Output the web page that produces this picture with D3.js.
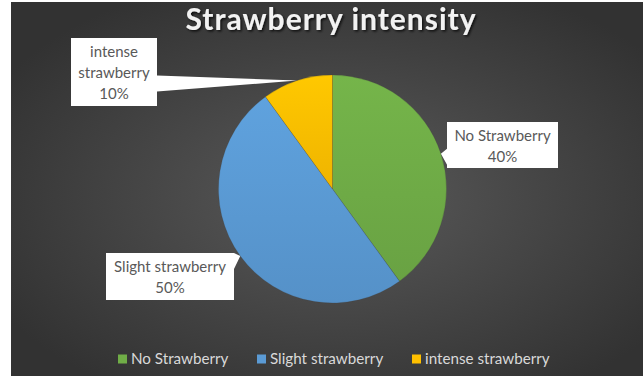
<!DOCTYPE html>
<html>
<head>
<meta charset="utf-8">
<script src="https://cdn.jsdelivr.net/npm/d3@7"></script>
<style>
  html, body { margin: 0; padding: 0; background: #ffffff; }
  svg { display: block; }
</style>
</head>
<body>
<svg id="chart" width="643" height="376"></svg>
<script>
// Survey result: perceived strawberry intensity
const categories = ["No Strawberry", "Slight strawberry", "intense strawberry"];
const shares = [40, 50, 10];
const labelLines = [["No Strawberry"], ["Slight strawberry"], ["intense", "strawberry"]];
const colors = ["#70AD47", "#5B9BD5", "#FFC000"];
const title = "Strawberry intensity";

const W = 643, H = 376;
const svg = d3.select("#chart");
const defs = svg.append("defs");

// chart area with a soft radial background
const bg = defs.append("radialGradient").attr("id", "bgGrad")
  .attr("cx", "52%").attr("cy", "52%").attr("r", "62%");
bg.append("stop").attr("offset", "0%").attr("stop-color", "#5a5a5a");
bg.append("stop").attr("offset", "100%").attr("stop-color", "#323232");
svg.append("rect").attr("x", 11).attr("y", 2).attr("width", W - 11).attr("height", H - 2)
  .attr("fill", "url(#bgGrad)");

// title with drop shadow
const shadow = defs.append("filter").attr("id", "tshadow")
  .attr("x", "-10%").attr("y", "-30%").attr("width", "120%").attr("height", "160%");
shadow.append("feDropShadow").attr("dx", 1.5).attr("dy", 1.5).attr("stdDeviation", 1.2)
  .attr("flood-color", "#000").attr("flood-opacity", 0.75);
svg.append("text")
  .attr("x", 331).attr("y", 30)
  .attr("text-anchor", "middle")
  .attr("font-family", "Lato, 'Open Sans', sans-serif")
  .attr("font-weight", "bold")
  .attr("font-size", 30)
  .attr("letter-spacing", 1)
  .attr("fill", "#f2f2f2")
  .attr("filter", "url(#tshadow)")
  .text(title);

// pie
const cx = 332.5, cy = 189, R = 114;
const g = svg.append("g").attr("transform", `translate(${cx},${cy})`);

colors.forEach((c, i) => {
  const lg = defs.append("linearGradient").attr("id", "slice" + i)
    .attr("x1", 0).attr("y1", 0).attr("x2", 0).attr("y2", 1);
  lg.append("stop").attr("offset", "0%").attr("stop-color", d3.color(c).brighter(0.12));
  lg.append("stop").attr("offset", "100%").attr("stop-color", d3.color(c).darker(0.18));
});

const pie = d3.pie().sort(null).value(d => d)(shares);
const arc = d3.arc().innerRadius(0).outerRadius(R);
g.selectAll("path.slice").data(pie).join("path")
  .attr("class", "slice")
  .attr("d", arc)
  .attr("fill", (d, i) => `url(#slice${i})`)
  .attr("stroke", "rgba(60,60,60,0.3)")
  .attr("stroke-width", 0.7);

// callout boxes (center position and size per slice)
const boxes = [
  { cx: 502.5, cy: 145, w: 111, h: 46 },
  { cx: 170, cy: 276.5, w: 128, h: 47 },
  { cx: 114, cy: 72, w: 86, h: 68 }
];

const callouts = svg.append("g");
pie.forEach((d, i) => {
  const b = boxes[i];
  const mid = (d.startAngle + d.endAngle) / 2;
  const tx = cx + R * Math.sin(mid), ty = cy - R * Math.cos(mid);
  const left = b.cx - b.w / 2, right = b.cx + b.w / 2;
  const top = b.cy - b.h / 2, bottom = b.cy + b.h / 2;
  // wedge from the box side facing the slice to the rim point
  const side = tx > right ? right : left;
  const by = Math.max(top + 8, Math.min(bottom - 8, ty + 3));
  const p = d3.path();
  p.moveTo(left, top);
  p.lineTo(right, top);
  if (side === right) {
    p.lineTo(right, by - 8); p.lineTo(tx, ty); p.lineTo(right, by + 8);
  }
  p.lineTo(right, bottom);
  p.lineTo(left, bottom);
  if (side === left) {
    p.lineTo(left, by + 8); p.lineTo(tx, ty); p.lineTo(left, by - 8);
  }
  p.closePath();
  callouts.append("path").attr("d", p.toString()).attr("fill", "#ffffff");

  const lines = labelLines[i].concat([shares[i] + "%"]);
  const lh = 21;
  const t = callouts.append("text")
    .attr("text-anchor", "middle")
    .attr("font-family", "Lato, 'Open Sans', sans-serif")
    .attr("font-size", 15)
    .attr("fill", "#595959");
  lines.forEach((ln, k) => {
    t.append("tspan").attr("x", b.cx)
      .attr("y", b.cy - (lines.length - 1) * lh / 2 + k * lh + 6)
      .text(ln);
  });
});

// legend
const legend = svg.append("g");
const legendX = [118, 257, 412];
categories.forEach((c, i) => {
  legend.append("rect").attr("x", legendX[i]).attr("y", 354.5)
    .attr("width", 9).attr("height", 9).attr("fill", colors[i]);
  legend.append("text").attr("x", legendX[i] + 13).attr("y", 364)
    .attr("font-family", "Lato, 'Open Sans', sans-serif")
    .attr("font-size", 15.2)
    .attr("fill", "#d9d9d9")
    .text(c);
});
</script>
</body>
</html>
